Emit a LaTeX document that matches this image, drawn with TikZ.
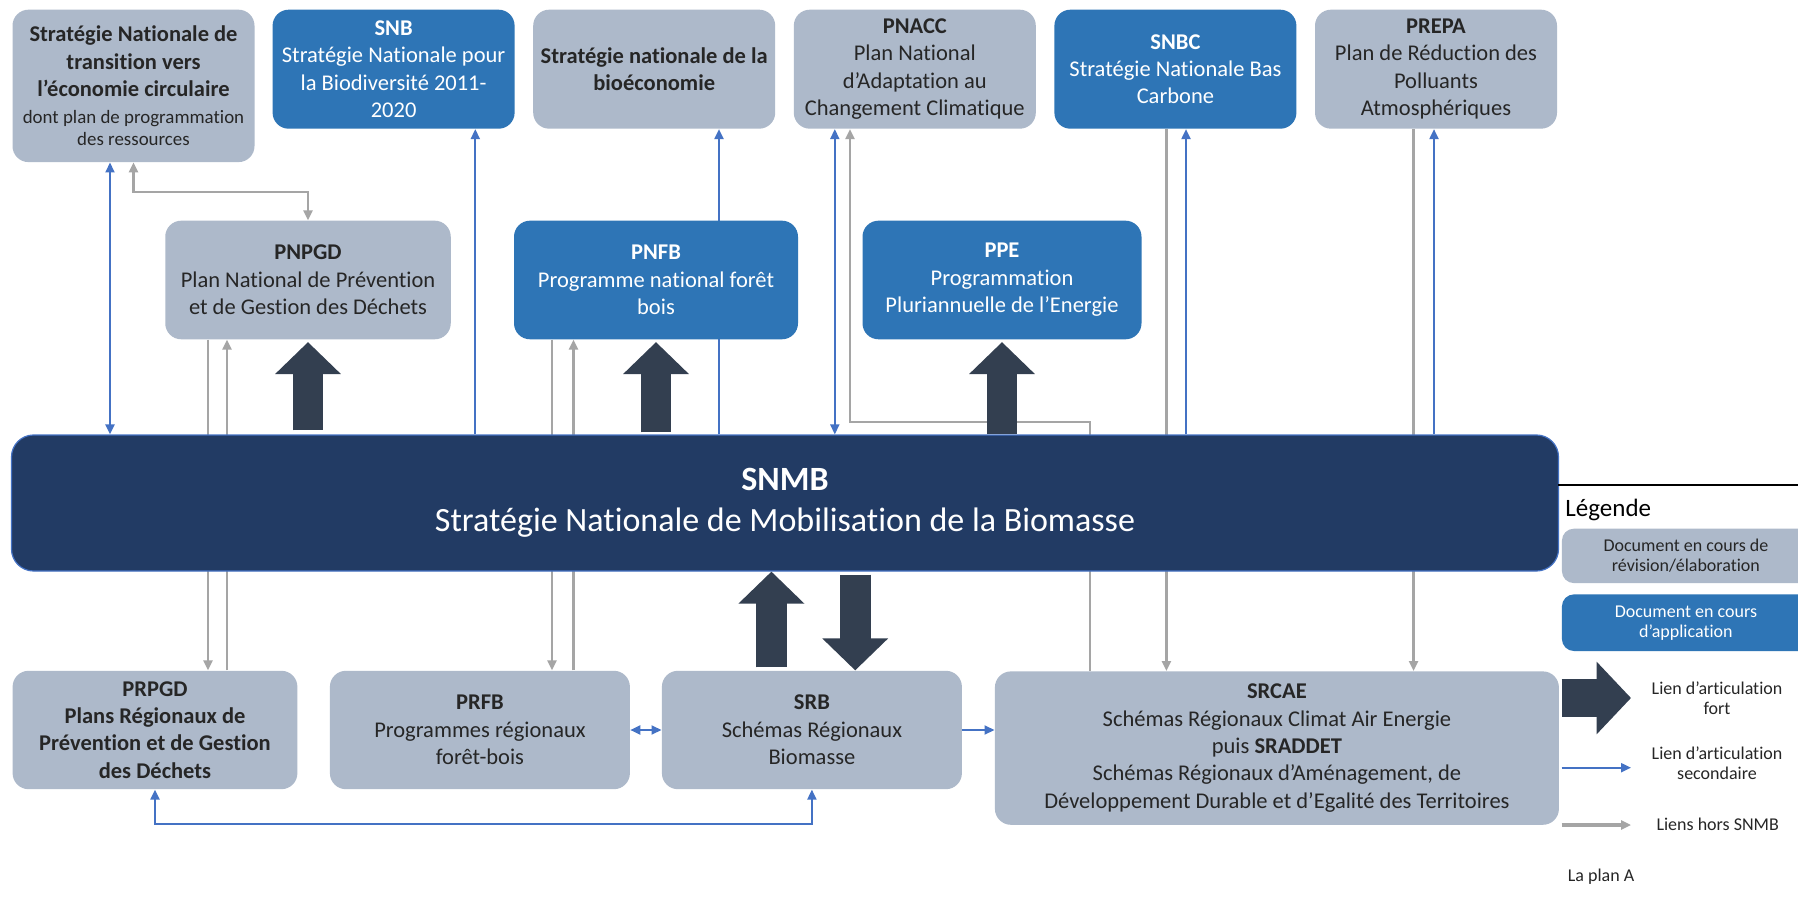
\documentclass[tikz,border=0pt]{standalone}
\usepackage{fontspec}
\setmainfont{Carlito}[Ligatures={NoCommon}]
\usepackage{xcolor}
\usepackage{tikz}
\usetikzlibrary{arrows.meta}
\usetikzlibrary{positioning, calc, backgrounds}
\definecolor{boxgray}{HTML}{ADB9CA}
\definecolor{boxblue}{HTML}{2E75B6}
\definecolor{navy}{HTML}{223B64}
\definecolor{arrowdark}{HTML}{333F50}
\definecolor{linkblue}{HTML}{4472C4}
\definecolor{linkgray}{HTML}{A5A5A5}
\definecolor{txtdark}{HTML}{262626}
\newcommand{\boxfont}{\fontsize{11.25}{13.7}\selectfont}
\newcommand{\smallfont}{\fontsize{9.45}{10.9}\selectfont}
\newcommand{\legfont}{\fontsize{9}{10}\selectfont}
\tikzstyle{revision} = [rectangle, rounded corners=8pt, fill=boxgray, text=txtdark, align=center, font=\boxfont, inner sep=2pt]
\tikzstyle{application} = [rectangle, rounded corners=8pt, fill=boxblue, text=white, align=center, font=\boxfont, inner sep=2pt]
\tikzstyle{topdoc} = [minimum width=121pt, minimum height=59.5pt]
\tikzstyle{middoc} = [minimum height=59.3pt]
\tikzstyle{lowdoc} = [minimum height=59.2pt]
\tikzstyle{secondary} = [line width=1pt, draw=linkblue, >={Triangle[length=5pt,width=4.5pt]}]
\tikzstyle{hors} = [line width=1.2pt, draw=linkgray, >={Triangle[length=5pt,width=4.5pt]}]
\tikzstyle{fort} = [line width=15.3pt, draw=arrowdark, -{Triangle[length=16pt,width=32pt]}]

\begin{document}
\begin{tikzpicture}[x=0.5pt, y=-0.5pt]
    \useasboundingbox (0,0) rectangle (1798,914);
    % national documents
    \node(snec)[revision, minimum width=121pt, minimum height=76.2pt, anchor=north] at (133.5,9.3) {\textbf{Stratégie Nationale  de}\\ \textbf{transition vers}\\ \textbf{l’économie circulaire}\\ {\smallfont dont plan de programmation}\\[-2.8pt] {\smallfont des ressources}};
    \node(snb)[application, topdoc, anchor=north] at (393.6,9.3) {\textbf{SNB}\\ Stratégie Nationale pour\\ la Biodiversité 2011-\\ 2020};
    \node(bioeco)[node distance=130.3pt, revision, topdoc, right of=snb] {\textbf{Stratégie nationale de la}\\ \textbf{bioéconomie}};
    \node(pnacc)[node distance=130.3pt, revision, topdoc, right of=bioeco] {\textbf{PNACC}\\ Plan National\\ d’Adaptation au\\ Changement Climatique};
    \node(snbc)[node distance=130.3pt, application, topdoc, right of=pnacc] {\textbf{SNBC}\\ Stratégie Nationale Bas\\ Carbone};
    \node(prepa)[node distance=130.3pt, revision, topdoc, right of=snbc] {\textbf{PREPA}\\ Plan de Réduction des\\ Polluants\\ Atmosphériques};
    %
    \node(pnpgd)[revision, middoc, minimum width=142.75pt] at (308,280) {\textbf{PNPGD}\\ Plan National de Prévention\\ et de Gestion des Déchets};
    \node(pnfb)[node distance=174pt, application, middoc, minimum width=142pt, right of=pnpgd] {\textbf{PNFB}\\ Programme national forêt\\ bois};
    \node(ppe)[node distance=173pt, application, middoc, minimum width=139.5pt, right of=pnfb] {\textbf{PPE}\\ Programmation\\ Pluriannuelle de l’Energie};
    %
    \node(snmb)[rectangle, rounded corners=11pt, fill=navy, draw=linkblue, line width=0.6pt, text=white, align=center, minimum width=773.5pt, minimum height=68pt, font=\fontsize{17}{20.5}\selectfont] at (785,503) {\textbf{SNMB}\\ Stratégie Nationale de Mobilisation de la Biomasse};
    % regional documents
    \node(prpgd)[revision, lowdoc, minimum width=142.4pt, font=\boxfont\bfseries] at (155,730) {PRPGD\\ Plans Régionaux de\\ Prévention et de Gestion\\ des Déchets};
    \node(prfb)[node distance=162.45pt, revision, lowdoc, minimum width=150pt, right of=prpgd] {\textbf{PRFB}\\ Programmes régionaux\\ forêt-bois};
    \node(srb)[node distance=166pt, revision, lowdoc, minimum width=150pt, right of=prfb] {\textbf{SRB}\\ Schémas Régionaux\\ Biomasse};
    \node(srcae)[revision, minimum width=282pt, minimum height=76.7pt, anchor=north west] at (994.5,671) {\textbf{SRCAE}\\ Schémas Régionaux Climat Air Energie\\ puis \textbf{SRADDET}\\ Schémas Régionaux d’Aménagement, de\\ Développement Durable et d’Egalité des  Territoires};
    %
    \begin{scope}[on background layer]
    \fill[white] (0,0) rectangle (1798,914);
    \draw[hors, <->](snec.south) -- ++(0,29.3) -| (pnpgd.north);
    \draw[hors, ->](pnpgd.south -| 208,0) -- (prpgd.north -| 208,0);
    \draw[hors, ->](prpgd.north -| 227,0) -- (pnpgd.south -| 227,0);
    \draw[hors, ->](pnfb.south -| 552,0) -- (prfb.north -| 552,0);
    \draw[hors, ->](prfb.north -| 573.5,0) -- (pnfb.south -| 573.5,0);
    \draw[hors, ->](srcae.north -| 1090,0) |- (850,422) -- (pnacc.south -| 850,0);
    \draw[hors, ->](snbc.south -| 1166.4,0) -- (srcae.north -| 1166.4,0);
    \draw[hors, ->](prepa.south -| 1413.5,0) -- (srcae.north -| 1413.5,0);
    %
    \draw[secondary, <->](snec.south -| 110,0) -- (snmb.north -| 110,0);
    \draw[secondary, ->](snmb.north -| 475.3,0) -- (snb.south -| 475.3,0);
    \draw[secondary, ->](snmb.north -| 719,0) -- (bioeco.south -| 719,0);
    \draw[secondary, <->](pnacc.south -| 834.8,0) -- (snmb.north -| 834.8,0);
    \draw[secondary, ->](snmb.north -| 1186,0) -- (snbc.south -| 1186,0);
    \draw[secondary, ->](snmb.north -| 1434,0) -- (prepa.south -| 1434,0);
    \draw[secondary, <->](prfb.east) -- (srb.west);
    \draw[secondary, ->](srb.east) -- (srcae.west |- srb.east);
    \draw[secondary, <->](prpgd.south) -- ++(0,34.7) -| (srb.south);
    \end{scope}
    % strong links
    \draw[fort, shorten >=1.2pt, shorten <=2pt](pnpgd.south |- snmb.north) -- (pnpgd.south);
    \draw[fort, shorten >=1.2pt, shorten <=1pt](pnfb.south |- snmb.north) -- (pnfb.south);
    \draw[fort, shorten >=1.2pt](ppe.south |- snmb.north) -- (ppe.south);
    \draw[fort, shorten <=1.5pt]($(srb.north)+(-40.5,0)$) -- ($(srb.north |- snmb.south)+(-40.5,0)$);
    \draw[fort, shorten <=1.5pt]($(srb.north |- snmb.south)+(43.3,0)$) -- ($(srb.north)+(43.3,0)$);
    % legend
    \draw[black, line width=1.2pt] (1558,485) -- (1810,485);
    \node(legtitle)[anchor=base west, inner sep=0pt, font=\fontsize{12.5}{15}\selectfont] at (1565,516.7) {Légende};
    \node(legrev)[revision, rounded corners=6pt, anchor=north west, minimum width=124pt, minimum height=27.2pt, font=\legfont] at (1561.5,528.3) {Document en cours de\\ révision/élaboration};
    \node(legapp)[application, rounded corners=6pt, anchor=north west, minimum width=124pt, minimum height=28.3pt, font=\legfont] at (1561.5,594) {Document en cours\\ d’application};
    \coordinate(fortA) at (1561.5,698);
    \coordinate(fortB) at (1631,698);
    \draw[fort, line width=18.8pt, -{Triangle[length=17.2pt,width=35.3pt]}](fortA) -- (fortB);
    \node(legfort)[align=center, text=txtdark, font=\legfont] at (1717,698) {Lien d’articulation\\ fort};
    \coordinate(secA) at (1561.7,767.7);
    \coordinate(secB) at (1631,767.7);
    \draw[secondary, ->](secA) -- (secB);
    \node(legsec)[align=center, text=txtdark, font=\legfont] at (1717,763.3) {Lien d’articulation\\ secondaire};
    \coordinate(horsA) at (1561.7,825);
    \coordinate(horsB) at (1631,825);
    \draw[hors, line width=1.6pt, ->](horsA) -- (horsB);
    \node(leghors)[text=txtdark, font=\legfont] at (1717.7,824) {Liens hors SNMB};
    \node(plan)[text=txtdark, font=\legfont] at (1601,877) {La plan A};
  \end{tikzpicture}
\end{document}
